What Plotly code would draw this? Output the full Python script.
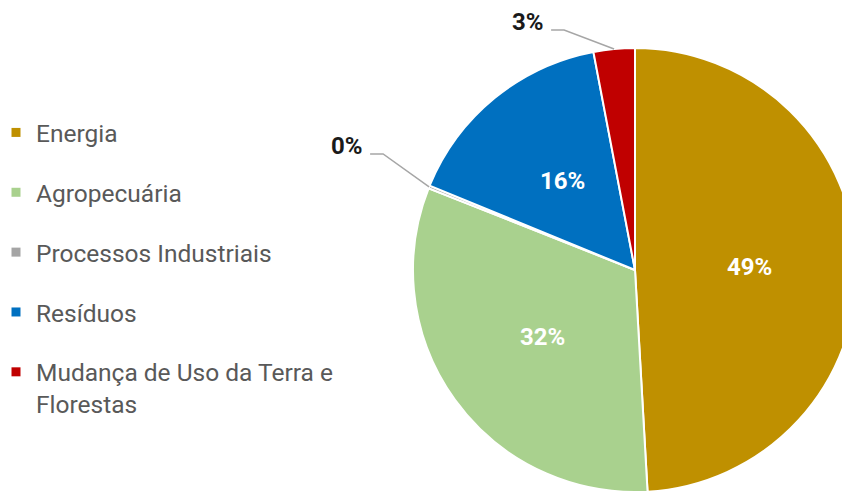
import math
import plotly.graph_objects as go

# ---- data ----
labels = ["Energia", "Agropecuária", "Processos Industriais", "Resíduos",
          "Mudança de Uso da Terra e<br>Florestas"]
values = [49.1, 31.9, 0.2, 15.8, 3.0]
colors = ["#BF9000", "#A9D18E", "#A5A5A5", "#0070C0", "#C00000"]

# ---- layout / style ----
W, H = 850, 492
# pie placement in figure pixels: centre (627, 262), radius 222
dom_x = [405 / W, 849 / W]
dom_y = [1 - 484 / H, 1 - 40 / H]
FONT = "Roboto, Arial, sans-serif"
inside_font = dict(family=FONT, size=24, color="white")
outside_font = dict(family=FONT, size=24, color="#1a1a1a")
# knee offset (px) of leader lines for the small slices, keyed by slice index
outside_offsets = {2: (-46, -33), 4: (-50, -19)}
hseg = 13

fig = go.Figure()
fig.add_trace(go.Pie(
    labels=labels, values=values, sort=False, direction="clockwise", rotation=0,
    marker=dict(colors=colors, line=dict(color="white", width=2)),
    textinfo="none", hoverinfo="label+percent", showlegend=False,
    domain=dict(x=dom_x, y=dom_y),
))

# legend via dummy traces (one group each to space the entries)
for i, (lab, col) in enumerate(zip(labels, colors)):
    fig.add_trace(go.Scatter(
        x=[None], y=[None], mode="markers", name=lab, legendgroup=str(i),
        marker=dict(symbol="square", size=9, color=col), hoverinfo="skip"))

# geometry in pixels (margins are 0)
pw = (dom_x[1] - dom_x[0]) * W
ph = (dom_y[1] - dom_y[0]) * H
r = min(pw, ph) / 2
cx = (dom_x[0] + dom_x[1]) / 2 * W
cy = H - (dom_y[0] + dom_y[1]) / 2 * H

def to_paper(x, y):
    return x / W, 1 - y / H

total = sum(values)
cum = 0
annotations = []
shapes = []
for i, v in enumerate(values):
    frac = v / total
    mid = (cum + frac / 2) * 2 * math.pi
    cum += frac
    txt = f"{round(frac * 100)}%"
    sx, sy = math.sin(mid), -math.cos(mid)
    if i in outside_offsets:
        ex, ey = cx + r * sx, cy + r * sy
        kx, ky = ex + outside_offsets[i][0], ey + outside_offsets[i][1]
        hx, hy = kx - hseg, ky
        p = [to_paper(ex, ey), to_paper(kx, ky), to_paper(hx, hy)]
        path = "M {} {} L {} {} L {} {}".format(p[0][0], p[0][1], p[1][0], p[1][1], p[2][0], p[2][1])
        shapes.append(dict(type="path", xref="paper", yref="paper", path=path,
                           line=dict(color="#A6A6A6", width=1.5)))
        tx, ty = to_paper(hx - 5, hy - 8)
        annotations.append(dict(x=tx, y=ty, xref="paper", yref="paper", text=f"<b>{txt}</b>",
                                showarrow=False, xanchor="right", yanchor="middle",
                                font=outside_font))
    else:
        rr = 0.515 * r
        tx, ty = to_paper(cx + rr * sx, cy + rr * sy)
        annotations.append(dict(x=tx, y=ty, xref="paper", yref="paper", text=f"<b>{txt}</b>",
                                showarrow=False, xanchor="center", yanchor="middle",
                                font=inside_font))

fig.update_layout(
    width=W, height=H, margin=dict(l=0, r=0, t=0, b=0, autoexpand=False),
    paper_bgcolor="white", plot_bgcolor="white",
    xaxis=dict(visible=False), yaxis=dict(visible=False),
    legend=dict(x=-12 / W, y=1 - 102 / H, xanchor="left", yanchor="top",
                font=dict(family=FONT, size=24.5, color="#595959"),
                tracegroupgap=25, itemclick=False, itemdoubleclick=False, valign="top"),
    annotations=annotations, shapes=shapes,
)
fig.write_html("out.html")
